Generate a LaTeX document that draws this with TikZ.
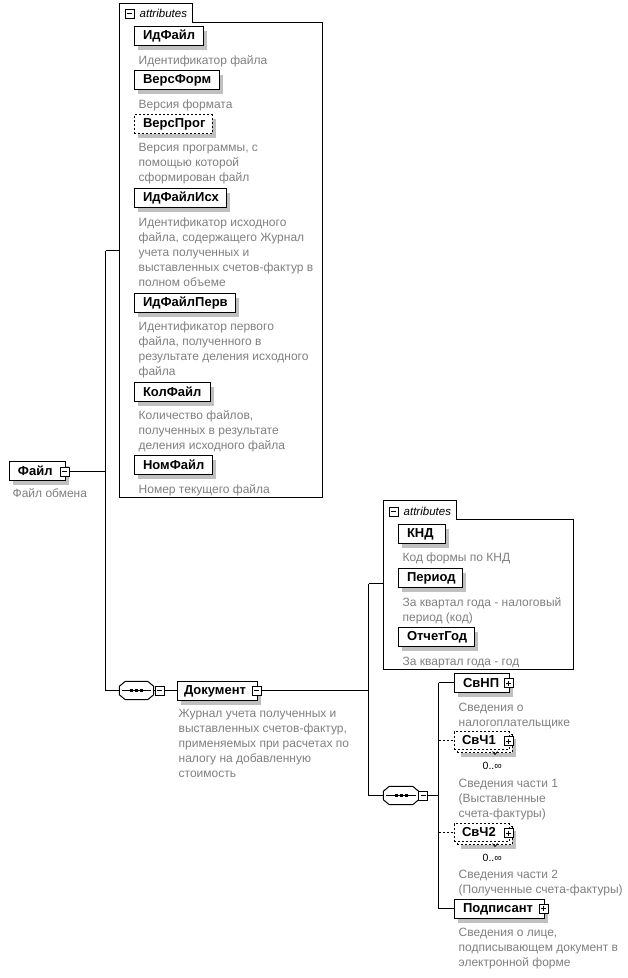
\documentclass[tikz,border=0pt]{standalone}
\usepackage{fontspec}
\setmainfont{Liberation Sans}
\usetikzlibrary{shadows}
\definecolor{desc}{RGB}{128,128,128}
\definecolor{shd}{RGB}{192,192,192}
\tikzset{
  elem/.style={draw=black, line width=1pt, fill=white, anchor=west, inner xsep=0pt, inner ysep=0pt,
    font=\fontsize{13}{15}\selectfont\bfseries, minimum height=19pt, align=left,
    general shadow={fill=shd, shadow xshift=4pt, shadow yshift=-4pt}},
  elemopt/.style={elem, dash pattern=on 2pt off 2pt},
  elemfront/.style={draw=black, line width=1pt, fill=white, anchor=west, inner xsep=0pt, inner ysep=0pt,
    font=\fontsize{13}{15}\selectfont\bfseries, minimum height=18pt, align=left, dash pattern=on 2pt off 2pt},
  elemback/.style={elemfront, general shadow={fill=shd, shadow xshift=4pt, shadow yshift=-4pt}},
  dsc/.style={anchor=base west, inner sep=0pt, font=\fontsize{12}{15}\selectfont, text=desc, align=left},
  occ/.style={anchor=west, inner sep=0pt, font=\fontsize{10.5}{12}\selectfont},
  attrlbl/.style={anchor=base west, inner sep=0pt, font=\fontsize{11.5}{13}\selectfont\itshape},
  pmbox/.style={draw=black, fill=white, line width=1pt, minimum size=9pt, inner sep=0pt},
  minusbox/.style={pmbox, path picture={\draw[line width=1pt] ([xshift=2pt]path picture bounding box.west) -- ([xshift=-2pt]path picture bounding box.east);}},
  plusbox/.style={pmbox, path picture={\draw[line width=1pt] ([xshift=2pt]path picture bounding box.west) -- ([xshift=-2pt]path picture bounding box.east);
      \draw[line width=1pt] ([yshift=-2pt]path picture bounding box.north) -- ([yshift=2pt]path picture bounding box.south);}},
  seqsym/.style={rectangle, inner sep=0pt, minimum height=18pt},
  conn/.style={draw=black, line width=1pt},
  optconn/.style={conn, dash pattern=on 2pt off 2pt},
  attrbox/.style={draw=black, line width=1pt},
}
\newcommand{\seqoutline}[1]{([xshift=6pt]#1.north west) -- ([xshift=-6pt]#1.north east) -- ([yshift=-5pt]#1.north east) -- ([yshift=5pt]#1.south east) -- ([xshift=-6pt]#1.south east) -- ([xshift=6pt]#1.south west) -- ([yshift=5pt]#1.south west) -- ([yshift=-5pt]#1.north west) -- cycle}
\newcommand{\seqdraw}[1]{%
  \fill[shd, shift={(4pt,-4pt)}] \seqoutline{#1};
  \draw[line width=1pt, fill=white] \seqoutline{#1};
  \draw[line width=1pt] ([xshift=3pt]#1.west) -- ([xshift=-3pt]#1.east);
  \fill ([xshift=-6.5pt,yshift=-1.5pt]#1.center) rectangle ([xshift=-3.5pt,yshift=1.5pt]#1.center);
  \fill ([xshift=-1.5pt,yshift=-1.5pt]#1.center) rectangle ([xshift=1.5pt,yshift=1.5pt]#1.center);
  \fill ([xshift=3.5pt,yshift=-1.5pt]#1.center) rectangle ([xshift=6.5pt,yshift=1.5pt]#1.center);}
\begin{document}
\begin{tikzpicture}[x=1pt,y=-1pt]
\fill[white] (0,0) rectangle (627,978);
\useasboundingbox (0,0) rectangle (627,978);
\begin{scope}[shift={(0.5,0.5)}]

% ---------- attributes of Файл ----------
\draw[attrbox] (119,497) -- (119,3) -- (192,3) -- (192,22) -- (322,22) -- (322,497) -- cycle;
\node[minusbox] (a1m) at (129,13) {};
\node[attrlbl] (a1l) at (139,16.5) {attributes};
\coordinate (a1in) at (119,250);

% (dsc nodes are placed by the baseline of their LAST line)
\node[elem, text width=69pt] (idf) at (133,35.5) {\hspace*{9pt}ИдФайл};
\node[dsc] (idfd) at (138,64) {Идентификатор файла};
\node[elem, text width=85pt] (vf) at (133,79.5) {\hspace*{9pt}ВерсФорм};
\node[dsc] (vfd) at (138,107.5) {Версия формата};
\node[elemopt, text width=78pt] (vp) at (133,123.5) {\hspace*{9pt}ВерсПрог};
\node[dsc] (vpd) at (138,181) {Версия программы, с\\помощью которой\\сформирован файл};
\node[elem, text width=92pt] (ifi) at (133,197.5) {\hspace*{9pt}ИдФайлИсх};
\node[dsc] (ifid) at (138,286) {Идентификатор исходного\\файла, содержащего Журнал\\учета полученных и\\выставленных счетов-фактур в\\полном объеме};
\node[elem, text width=101pt] (ifp) at (133,302.5) {\hspace*{9pt}ИдФайлПерв};
\node[dsc] (ifpd) at (138,375) {Идентификатор первого\\файла, полученного в\\результате деления исходного\\файла};
\node[elem, text width=76pt] (kf) at (133,391.5) {\hspace*{9pt}КолФайл};
\node[dsc] (kfd) at (138,449) {Количество файлов,\\полученных в результате\\деления исходного файла};
\node[elem, text width=78pt] (nf) at (133,464.5) {\hspace*{9pt}НомФайл};
\node[dsc] (nfd) at (138,493) {Номер текущего файла};

% ---------- Файл ----------
\node[elem, text width=56pt] (file) at (8,470.5) {\hspace*{9pt}Файл};
\node[minusbox] (filem) at (64,471) {};
\node[dsc] (filed) at (12,497) {Файл обмена};

\coordinate (t1a) at (105,250);
\coordinate (t1f) at (105,471);
\coordinate (t1b) at (105,690);
\draw[conn] (filem.east) -- (t1f);
\draw[conn] (t1a) -- (t1b);
\draw[conn] (t1a) -- (a1in);

% ---------- sequence 1 ----------
\node[seqsym, minimum width=34pt] (seq1) at (136,690) {};
\seqdraw{seq1}
\node[minusbox] (seq1m) at (159,690) {};
\draw[conn] (t1b) -- (seq1.west);
\draw[conn] (seq1.east) -- (seq1m.west);

% ---------- Документ ----------
\node[elem, text width=80pt] (doc) at (176,690.5) {\hspace*{7pt}Документ};
\node[minusbox] (docm) at (256,690) {};
\node[dsc] (docd) at (178,777) {Журнал учета полученных и\\выставленных счетов-фактур,\\применяемых при расчетах по\\налогу на добавленную\\стоимость};
\draw[conn] (seq1m.east) -- (doc.west |- seq1m.east);

\coordinate (t2a) at (368,583);
\coordinate (t2d) at (368,690);
\coordinate (t2b) at (368,795);
\draw[conn] (docm.east) -- (t2d);
\draw[conn] (t2a) -- (t2b);

% ---------- attributes of Документ ----------
\draw[attrbox] (383,669) -- (383,500) -- (456,500) -- (456,519) -- (573,519) -- (573,669) -- cycle;
\node[minusbox] (a2m) at (393,511) {};
\node[attrlbl] (a2l) at (403,514.5) {attributes};
\coordinate (a2in) at (383,583);
\draw[conn] (t2a) -- (a2in);

\node[elem, text width=47pt] (knd) at (397,533.5) {\hspace*{9pt}КНД};
\node[dsc] (kndd) at (402,561) {Код формы по КНД};
\node[elem, text width=64pt] (per) at (397,577.5) {\hspace*{9pt}Период};
\node[dsc] (perd) at (402,621) {За квартал года - налоговый\\период (код)};
\node[elem, text width=76pt] (og) at (397,636.5) {\hspace*{9pt}ОтчетГод};
\node[dsc] (ogd) at (402,665) {За квартал года - год};

% ---------- sequence 2 ----------
\node[seqsym, minimum width=35pt] (seq2) at (400.5,795) {};
\seqdraw{seq2}
\node[minusbox] (seq2m) at (422.5,795) {};
\draw[conn] (t2b) -- (seq2.west);
\draw[conn] (seq2.east) -- (seq2m.west);

\coordinate (t3a) at (438,682);
\coordinate (t3c1) at (438,740);
\coordinate (t3s) at (438,795);
\coordinate (t3c2) at (438,832);
\coordinate (t3b) at (438,908);
\draw[conn] (seq2m.east) -- (t3s);
\draw[conn] (t3a) -- (t3b);

% СвНП
\node[elem, text width=55pt] (svnp) at (453,682.5) {\hspace*{9pt}СвНП};
\node[plusbox] (svnpp) at (508,682.5) {};
\node[dsc] (svnpd) at (458,726) {Сведения о\\налогоплательщике};
\draw[conn] (t3a) -- (svnp.west |- t3a);

% СвЧ1
\node[elemback, text width=55pt] (c1b) at (456,743) {};
\node[elemfront, text width=55pt] (c1) at (453,740) {\hspace*{8pt}СвЧ1};
\node[plusbox] (c1p) at (508,740.5) {};
\draw[line width=0.8pt] (492,751) -- (494.5,754) -- (497,751);
\node[occ] (c1o) at (482,765) {0..∞};
\node[dsc] (c1d) at (458,817) {Сведения части 1\\(Выставленные\\счета-фактуры)};
\draw[optconn] (t3c1) -- (c1.west);

% СвЧ2
\node[elemback, text width=55pt] (c2b) at (456,835) {};
\node[elemfront, text width=55pt] (c2) at (453,832) {\hspace*{8pt}СвЧ2};
\node[plusbox] (c2p) at (508,832.5) {};
\draw[line width=0.8pt] (492,843) -- (494.5,846) -- (497,843);
\node[occ] (c2o) at (482,857) {0..∞};
\node[dsc] (c2d) at (458,893) {Сведения части 2\\(Полученные счета-фактуры)};
\draw[optconn] (t3c2) -- (c2.west);

% Подписант
\node[elem, text width=90pt] (pod) at (453,908.5) {\hspace*{9pt}Подписант};
\node[plusbox] (podp) at (543,908) {};
\node[dsc] (podd) at (458,966) {Сведения о лице,\\подписывающем документ в\\электронной форме};
\draw[conn] (t3b) -- (pod.west |- t3b);
\end{scope}
\end{tikzpicture}
\end{document}
